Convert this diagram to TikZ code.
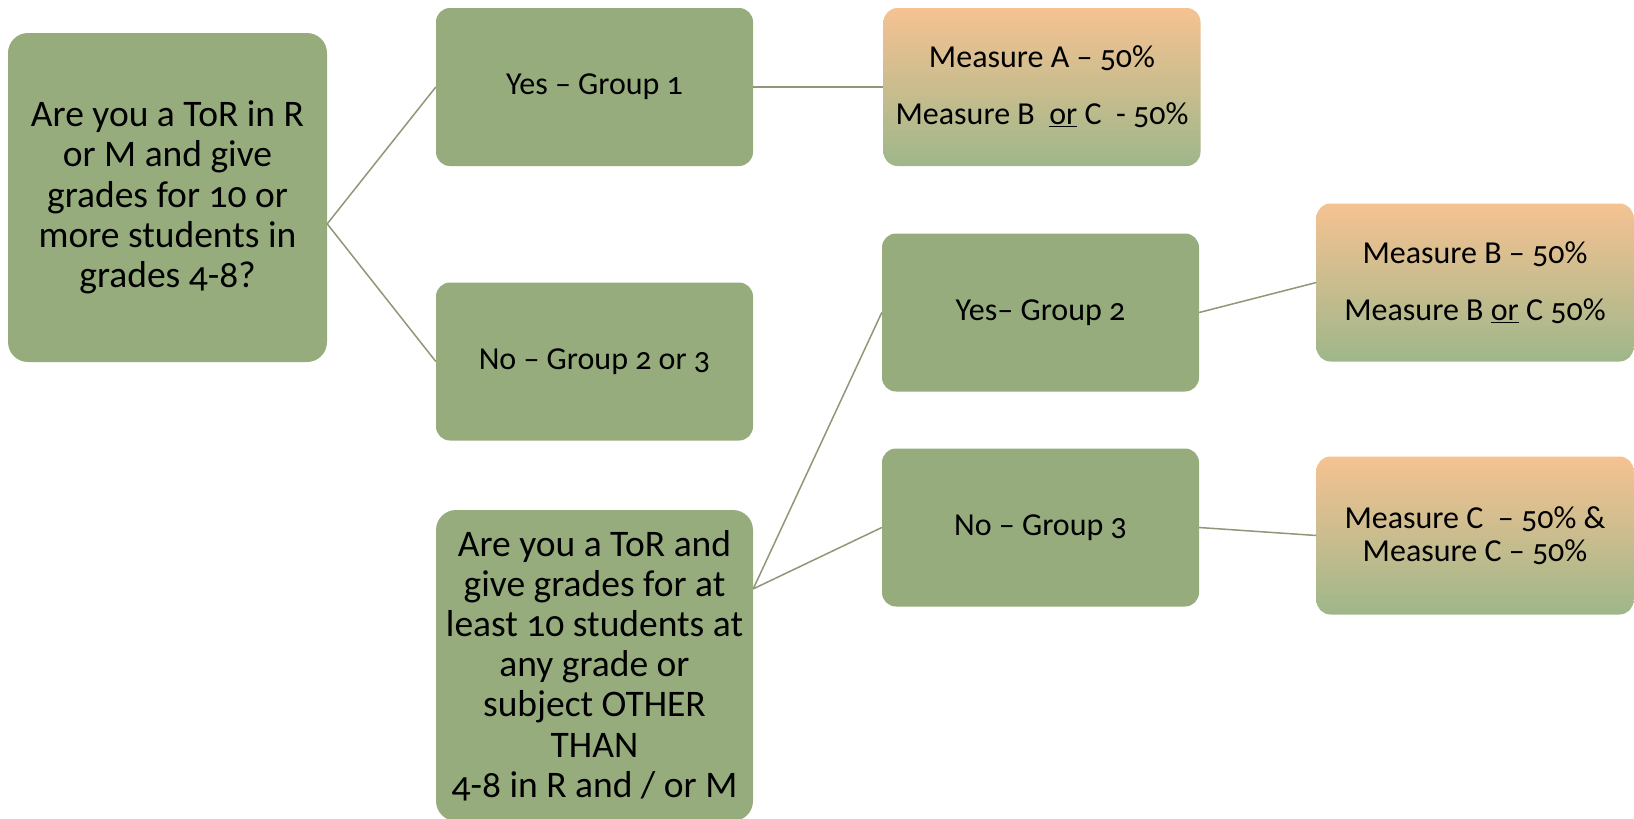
\documentclass[tikz,border=0pt]{standalone}
\usepackage{fontspec}
\setmainfont{Carlito}[Numbers=OldStyle]
\usetikzlibrary{calc}
\definecolor{boxgreen}{RGB}{151,172,124}
\definecolor{gradtop}{RGB}{246,194,146}
\definecolor{gradbot}{RGB}{158,183,138}
\definecolor{linecol}{RGB}{140,152,118}
\tikzset{
  x=1pt, y=-1pt,
  gbox/.style={draw=none, fill=boxgreen, rounded corners=14pt, minimum width=317pt, minimum height=158pt, inner sep=0pt, align=center, font=\fontsize{32}{33.5}\selectfont},
  qbox/.style={gbox, rounded corners=20pt, font=\fontsize{37.5}{40.2}\selectfont},
  mbox/.style={gbox, fill=none, top color=gradtop, bottom color=gradbot},
  link/.style={draw=linecol, line width=1.5pt},
}
\begin{document}
\begin{tikzpicture}
\useasboundingbox (0,0) rectangle (1634,819);
\node[qbox, minimum width=319pt, minimum height=329pt] (q1) at (167.5,197.5) {Are you a ToR in R\\or M and give\\grades for 10 or\\more students in\\grades 4-8?};
\node[gbox] (y1) at (594.5,87) {Yes -- Group 1};
\node[gbox] (n1) at (594.5,361.5) {No -- Group 2 or 3};
\node[qbox, minimum width=317pt, minimum height=311pt] (q2) at (594.5,665.5) {Are you a ToR and\\give grades for at\\least 10 students at\\any grade or\\subject OTHER\\THAN\\4-8 in R and / or M};
\node[mbox] (ma) at (1042,87) {Measure A -- 50\%\\[23.5pt]Measure B\ \ \underline{or} C\ \ - 50\%};
\node[gbox] (y2) at (1040.5,312.5) {Yes-- Group 2};
\node[gbox] (n3) at (1040.5,527.5) {No -- Group 3};
\node[mbox] (mb) at (1475,282.5) {Measure B -- 50\%\\[23.5pt]Measure B \underline{or} C 50\%};
\node[mbox] (mc) at (1475,535.5) {Measure C\ \ -- 50\% \&\\Measure C -- 50\%};
\coordinate (q1out) at ($(q1.north east)!0.58!(q1.south east)$);
\coordinate (q2out) at ($(q2.north east)!0.254!(q2.south east)$);
\draw[link] (q1out) -- (y1.west);
\draw[link] (q1out) -- (n1.west);
\draw[link] (y1.east) -- (ma.west);
\draw[link] (q2out) -- (y2.west);
\draw[link] (q2out) -- (n3.west);
\draw[link] (y2.east) -- (mb.west);
\draw[link] (n3.east) -- (mc.west);
\end{tikzpicture}
\end{document}
